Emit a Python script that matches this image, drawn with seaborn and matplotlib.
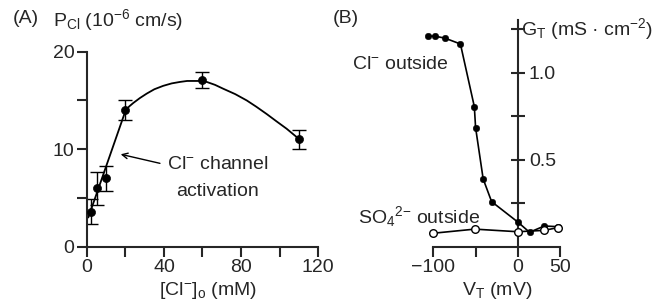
import numpy as np
import pandas as pd
import matplotlib
matplotlib.use("Agg")
import matplotlib.pyplot as plt
import seaborn as sns

# panel A: chloride permeability vs external chloride
pcl_conc = [2, 5, 10, 20, 60, 110]
pcl_val = [3.6, 6.0, 7.0, 14.0, 17.1, 11.0]
pcl_err = [1.3, 1.7, 1.3, 1.0, 0.8, 1.0]

# fitted curve
fit_conc = [0.7, 20.1, 22, 24.1, 27.5, 31, 35, 39.6, 44, 48.3, 52,
            55.2, 59, 62.2, 66.5, 70.8, 77, 83, 88, 93.4, 98.5, 103.7, 109.8]
fit_val = [3.0, 14.0, 14.4, 14.75, 15.25, 15.7, 16.15, 16.5, 16.75, 16.9,
           17.0, 17.0, 17.0, 16.9, 16.6, 16.2, 15.65, 15.0, 14.35, 13.6, 12.85, 12.1, 11.1]

# panel B: conductance vs voltage
cl_v = [-107, -98, -86, -68, -51.5, -50, -41, -31, 0, 14, 31.5, 48]
cl_g = [1.21, 1.21, 1.198, 1.165, 0.805, 0.684, 0.389, 0.259, 0.142, 0.083, 0.119, 0.115]
so4_v = [-101, -51, 0, 31.5, 48]
so4_g = [0.077, 0.101, 0.086, 0.094, 0.11]

sns.set_style("ticks")
plt.rcParams["font.family"] = ["Liberation Sans", "DejaVu Sans"]
plt.rcParams["mathtext.default"] = "regular"
plt.rcParams["axes.linewidth"] = 1.5
FS = 14

fig = plt.figure(figsize=(6.61, 3.01), dpi=100)

# ---------- panel A ----------
axA = fig.add_axes([0.1316, 0.1804, 0.3495, 0.6478])
sns.lineplot(x=fit_conc, y=fit_val, sort=False, color="black", lw=1.3, ax=axA)
axA.errorbar(pcl_conc, pcl_val, yerr=pcl_err, fmt="none", ecolor="black",
             elinewidth=1.0, capsize=5, capthick=1.0)
sns.scatterplot(x=pcl_conc, y=pcl_val, color="black", s=34, edgecolor="black", zorder=5, ax=axA)
axA.set_xlim(0, 120)
axA.set_ylim(0, 20)
axA.set_xticks(np.arange(0, 121, 20))
axA.set_xticklabels(["0", "", "40", "", "80", "", "120"])
axA.set_yticks([0, 5, 10, 15, 20])
axA.set_yticklabels(["0", "", "10", "", "20"])
axA.tick_params(direction="out", length=7, width=1.5, labelsize=FS, pad=2)
sns.despine(ax=axA)
for sp in ["left", "bottom"]:
    axA.spines[sp].set_linewidth(1.5)

axA.annotate("", xy=(17.5, 9.48), xytext=(37.9, 8.55),
             arrowprops=dict(arrowstyle="->", lw=1.0, color="black", shrinkA=0, shrinkB=0))
axA.text(41.4, 8.38, r"Cl$^{-}$ channel", ha="left", va="center", fontsize=FS)
axA.text(67.8, 5.64, "activation", ha="center", va="center", fontsize=FS)

fig.text(0.0197, 0.925, "(A)", fontsize=FS, va="baseline")
fig.text(0.080, 0.914, r"P$_{Cl}$ (10$^{-6}$ cm/s)", fontsize=FS, va="baseline")
fig.text(0.3147, 0.02, r"[Cl$^{-}$]$_o$ (mM)", fontsize=FS, ha="center", va="baseline")

# ---------- panel B ----------
axB = fig.add_axes([0.643, 0.1804, 0.2104, 0.7515])
sns.lineplot(x=so4_v, y=so4_g, sort=False, color="black", lw=1.2, ax=axB)
sns.lineplot(x=cl_v, y=cl_g, sort=False, color="black", lw=1.2, ax=axB)
sns.scatterplot(x=cl_v, y=cl_g, color="black", s=22, edgecolor="black", zorder=5, ax=axB)
sns.scatterplot(x=so4_v, y=so4_g, color="white", s=30, edgecolor="black", linewidth=1.0,
                zorder=6, ax=axB)
axB.set_xlim(-110, 55)
axB.set_ylim(0, 1.3)
axB.spines["left"].set_visible(False)
axB.spines["top"].set_visible(False)
axB.spines["right"].set_position(("data", 0))
axB.spines["bottom"].set_bounds(-100, 50)
axB.yaxis.tick_right()
axB.set_yticks([0.25, 0.5, 0.75, 1.0, 1.25])
axB.set_yticklabels(["", "0.5", "", "1.0", ""])
axB.set_xticks([-100, -50, 0, 50])
axB.set_xticklabels(["\u2212100", "", "0", "50"])
axB.tick_params(axis="y", direction="inout", length=10, width=1.5, labelsize=FS, pad=3)
axB.tick_params(axis="x", direction="out", length=7, width=1.5, labelsize=FS, pad=2)

axB.text(4, 1.25, r"G$_T$ (mS · cm$^{-2}$)", fontsize=FS, ha="left", va="center")
axB.text(-196.6, 1.021, r"Cl$^{-}$ outside", fontsize=FS, ha="left", va="baseline")
axB.text(-190, 0.138, r"SO$_4$$^{2{-}}$ outside", fontsize=FS, ha="left", va="baseline")

fig.text(0.504, 0.925, "(B)", fontsize=FS, va="baseline")
fig.text(0.753, 0.02, r"V$_T$ (mV)", fontsize=FS, ha="center", va="baseline")

fig.savefig("out.png", dpi=100)
